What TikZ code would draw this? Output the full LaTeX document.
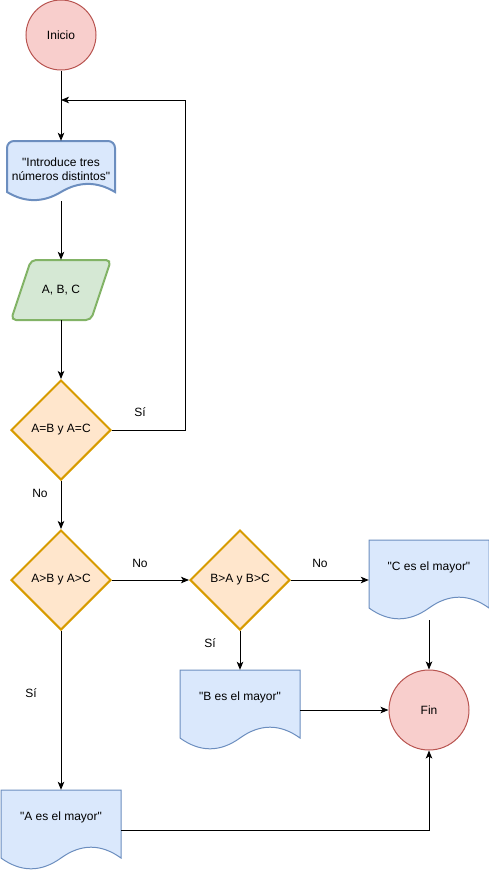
\documentclass[tikz,border=0pt]{standalone}
\usepackage{fontspec}
\setmainfont{Liberation Sans}[Ligatures=TeXOff]
\usetikzlibrary{arrows.meta,shapes.geometric,calc}
\definecolor{redF}{HTML}{F8CECC}\definecolor{redS}{HTML}{B85450}
\definecolor{bluF}{HTML}{DAE8FC}\definecolor{bluS}{HTML}{6C8EBF}
\definecolor{grnF}{HTML}{D5E8D4}\definecolor{grnS}{HTML}{82B366}
\definecolor{orgF}{HTML}{FFE6CC}\definecolor{orgS}{HTML}{D79B00}
\newcommand\docshape[6]{%
\draw[#1] (#2,#3+#5*0.5) [rounded corners=#6] -- (#2,#3) -- (#2+#4,#3) -- (#2+#4,#3+#5*0.3) [sharp corners] -- (#2+#4,#3+#5*0.85)
 .. controls (#2+#4*5/6,#3+#5*0.67) and (#2+#4*2/3,#3+#5*0.67) .. (#2+#4/2,#3+#5*0.85)
 .. controls (#2+#4/3,#3+#5*1.03) and (#2+#4/6,#3+#5*1.03) .. (#2,#3+#5*0.85) -- cycle;}
\begin{document}
\begin{tikzpicture}[x=1pt,y=-1pt,
  txt/.style={font=\fontsize{12}{14}\selectfont, inner sep=0pt, align=center},
  termR/.style={circle, draw=redS, fill=redF, line width=1pt, inner sep=0pt, txt},
  decis/.style={diamond, draw=orgS, fill=orgF, line width=2pt, inner sep=0pt, minimum width=100pt, minimum height=100pt, aspect=1, txt},
  docthin/.style={draw=bluS, fill=bluF, line width=1pt},
  docthick/.style={draw=bluS, fill=bluF, line width=2pt},
  box/.style={draw=none, rectangle, inner sep=0pt},
  arr/.style={draw=black, line width=1pt, -{Stealth[length=8pt,width=6.5pt,inset=2pt]}},
  lbl/.style={txt}
]
\useasboundingbox (0,0) rectangle (489,871);
% start
\node[termR, minimum size=70pt] (ini) at (61,35) {Inicio};
% document 1
\docshape{docthick}{7}{141}{108}{60}{7}
\node[box, minimum width=108pt, minimum height=60pt] (d1) at (61,171) {};
\node[txt] (t1) at (61,169) {"Introduce tres\\números distintos"};
% input parallelogram
\draw[draw=grnS, fill=grnF, line width=2pt, rounded corners=5pt] (31,260) -- (111,260) -- (91,320) -- (11,320) -- cycle;
\node[box, minimum width=100pt, minimum height=60pt, txt] (par) at (61,290) {A, B, C};
% decisions
\node[decis] (q1) at (61,430) {A=B y A=C};
\node[decis] (q2) at (61,580) {A>B y A>C};
\node[decis] (q3) at (240,580) {B>A y B>C};
% outputs
\docshape{docthin}{369}{540}{120}{80}{0}
\node[box, minimum width=120pt, minimum height=80pt] (dc) at (429,580) {};
\node[txt] (tc) at (429,567) {"C es el mayor"};
\docshape{docthin}{180}{670}{120}{80}{0}
\node[box, minimum width=120pt, minimum height=80pt] (db) at (240,710) {};
\node[txt] (tb) at (240,697) {"B es el mayor"};
\docshape{docthin}{1}{790}{120}{80}{0}
\node[box, minimum width=120pt, minimum height=80pt] (da) at (61,830) {};
\node[txt] (ta) at (61,817) {"A es el mayor"};
% end
\node[termR, minimum size=80pt] (fin) at (429,710) {Fin};
% connectors
\coordinate (lp) at (61,100);
\coordinate (lc) at (185,100);
\draw[arr] (ini) -- (d1.north);
\draw[arr] (d1.south) -- (par.north);
\draw[arr] (par.south) -- (q1.north);
\draw[arr] (q1.east) -| (lc) -- (lp);
\draw[arr] (q1.south) -- (q2.north);
\draw[arr] (q2.east) -- (q3.west);
\draw[arr] (q3.east) -- (dc.west);
\draw[arr] (dc.south) -- (fin.north);
\draw[arr] (q3.south) -- (db.north);
\draw[arr] (db.east) -- (fin.west);
\draw[arr] (q2.south) -- (da.north);
\draw[arr] (da.east) -| (fin.south);
% labels
\node[lbl] (l1) at (140,412) {Sí};
\node[lbl] (l2) at (40,493) {No};
\node[lbl] (l3) at (140,563) {No};
\node[lbl] (l4) at (320,563) {No};
\node[lbl] (l5) at (210,643) {Sí};
\node[lbl] (l6) at (31,693) {Sí};
\end{tikzpicture}
\end{document}
